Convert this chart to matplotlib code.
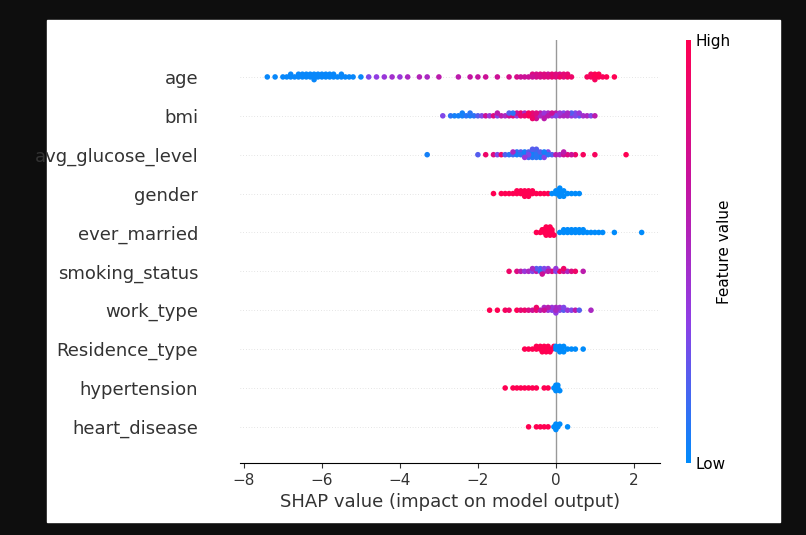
import numpy as np
import matplotlib
matplotlib.use("Agg")
import matplotlib.pyplot as plt
from matplotlib.colors import LinearSegmentedColormap

features = ["age", "bmi", "avg_glucose_level", "gender", "ever_married",
            "smoking_status", "work_type", "Residence_type", "hypertension", "heart_disease"]

age_shap = [-7.4, -7.2, -7.0, -6.9, -6.8, -6.7, -6.6, -6.5, -6.4, -6.3, -6.2, -6.1, -6.0, -5.9,
            -5.8, -5.7, -5.6, -5.5, -5.4, -5.3, -5.2, -5.0, -6.5, -6.3, -6.1, -6.0, -5.9, -6.6,
            -6.4, -6.2, -5.5, -5.7, -6.8, -6.2, -5.8,
            -4.8, -4.6, -4.4, -4.2, -4.0, -3.8, -3.5, -3.3, -3.0, -2.5, -2.2, -2.0,
            -1.8, -1.5, -1.2, -1.0, -0.8, -0.6, -0.5, -0.4, -0.3, -0.2, -0.1, 0.0, 0.1, 0.2,
            0.3, 0.4, -0.7, -0.5, -0.3, -0.1, 0.1, 0.3, -0.9, -0.2, -0.4, 0.0, -0.6, 0.2,
            0.8, 0.9, 1.0, 1.1, 1.2, 1.3, 1.5, 0.9, 1.0, 1.1, 1.0]
age_fv = [0.02] * 35 + [0.3, 0.35, 0.4, 0.45, 0.4, 0.5, 0.55, 0.5, 0.6, 0.6, 0.65, 0.65] + \
         [0.7, 0.7, 0.75, 0.75, 0.7, 0.8, 0.75, 0.8, 0.8, 0.7, 0.85, 0.8, 0.75, 0.8,
          0.85, 0.9, 0.7, 0.75, 0.8, 0.85, 0.9, 0.9, 0.7, 0.8, 0.75, 0.8, 0.7, 0.85] + \
         [0.95, 0.95, 1.0, 1.0, 0.95, 1.0, 1.0, 0.95, 1.0, 1.0, 0.95]

bmi_shap = [-2.9, -2.7, -2.6, -2.5, -2.4, -2.3, -2.2, -2.1, -2.0, -1.9, -1.8, -1.7, -1.6,
            -1.5, -1.4, -1.3, -1.2, -1.1, -1.0, -0.9, -0.8, -0.7, -0.6, -0.5, -0.4, -0.3,
            -0.2, -0.1, 0.0, 0.1, 0.2, 0.3, 0.4, 0.5, 0.6, 0.7, 0.8, 0.9, 1.0,
            -2.4, -2.2, -1.5, -1.2, -1.0, -0.8, -0.6, -0.5, -0.4, -0.3, -0.2, 0.0, 0.2, 0.4,
            -0.7, -0.5, -0.3, -0.1, 0.1, 0.3, 0.5, -1.1, -0.9, -0.6, 0.6]
bmi_fv = [0.3, 0.1, 0.05, 0.05, 0.05, 0.1, 0.05, 0.1, 0.2, 0.3, 0.7, 0.4, 0.8, 0.3, 0.6,
          0.5, 0.7, 0.8, 0.4, 0.9, 0.5, 1.0, 0.9, 0.8, 0.6, 0.7, 0.5, 0.4, 0.6, 0.5, 0.3,
          0.5, 0.4, 0.3, 0.2, 0.45, 0.5, 0.3, 0.6,
          0.05, 0.1, 0.6, 0.2, 0.7, 0.9, 0.85, 0.7, 0.5, 0.4, 0.6, 0.3, 0.5, 0.2,
          0.95, 0.8, 0.6, 0.7, 0.4, 0.5, 0.3, 0.1, 0.85, 0.9, 0.4]

glu_shap = [-3.3, -2.0, -1.8, -1.6, -1.5, -1.4, -1.3, -1.2, -1.1, -1.0, -0.9, -0.8, -0.7,
            -0.6, -0.5, -0.4, -0.3, -0.2, -0.1, 0.0, 0.1, 0.2, 0.3, 0.5, 0.7, 1.0, 1.8,
            -1.0, -0.9, -0.8, -0.7, -0.6, -0.5, -0.4, -0.3, -0.2, -0.6, -0.5, -0.4, -0.7,
            -0.8, -1.1, -0.3, 0.2, 0.4, -0.5, -0.6]
glu_fv = [0.05, 0.2, 0.9, 0.8, 0.3, 0.9, 0.2, 0.1, 0.15, 0.1, 0.2, 0.1, 0.15, 0.1, 0.2,
          0.1, 0.15, 0.3, 0.2, 0.6, 0.5, 0.7, 0.8, 0.9, 0.95, 0.95, 1.0,
          0.05, 0.1, 0.05, 0.2, 0.1, 0.15, 0.05, 0.3, 0.1, 0.05, 0.1, 0.2, 0.3, 0.4,
          0.5, 0.05, 0.6, 0.7, 0.1, 0.2]

gen_shap = [-1.6, -1.4, -1.3, -1.2, -1.1, -1.0, -0.9, -0.8, -0.7, -0.6, -0.5, -0.4, -0.3,
            -0.2, -1.0, -0.9, -0.8, -0.7, -0.6, -0.8, -0.7,
            -0.1, 0.0, 0.05, 0.1, 0.15, 0.2, 0.3, 0.4, 0.5, 0.6, 0.0, 0.1, 0.2, 0.1]
gen_fv = [1.0] * 21 + [0.0] * 14

mar_shap = [-0.5, -0.4, -0.35, -0.3, -0.25, -0.2, -0.15, -0.1, -0.05, -0.3, -0.2, -0.1,
            -0.25, -0.15,
            0.1, 0.2, 0.3, 0.4, 0.5, 0.6, 0.7, 0.8, 0.9, 1.0, 1.1, 1.2, 1.5, 2.2, 0.3,
            0.4, 0.5, 0.6, 0.7, 0.2]
mar_fv = [1.0] * 14 + [0.0] * 20

smk_shap = [-1.2, -1.0, -0.9, -0.8, -0.7, -0.6, -0.5, -0.4, -0.3, -0.2, -0.1, 0.0, 0.1,
            0.2, 0.3, 0.4, 0.5, 0.7, -0.4, -0.3, -0.2, -0.5, 0.0, 0.2, -0.6, -0.35]
smk_fv = [0.9, 0.8, 0.6, 0.4, 0.5, 0.3, 0.6, 0.2, 0.5, 0.4, 0.8, 0.3, 0.9, 0.7, 0.5, 0.8,
          0.9, 0.6, 0.1, 0.3, 0.6, 0.2, 0.4, 0.9, 0.5, 0.7]

wrk_shap = [-1.7, -1.5, -1.3, -1.2, -1.0, -0.9, -0.8, -0.7, -0.6, -0.5, -0.4, -0.3, -0.2,
            -0.1, 0.0, 0.1, 0.2, 0.3, 0.4, 0.5, 0.6, 0.9, -0.1, 0.0, 0.1, 0.2, -0.2, 0.0,
            -0.5, -0.3]
wrk_fv = [1.0, 1.0, 0.95, 0.9, 1.0, 0.85, 0.9, 0.8, 0.7, 0.85, 0.6, 0.5, 0.4, 0.3, 0.5,
          0.3, 0.2, 0.4, 0.3, 0.6, 0.2, 0.5, 0.4, 0.35, 0.45, 0.3, 0.6, 0.5, 0.9, 0.7]

res_shap = [-0.8, -0.7, -0.6, -0.5, -0.4, -0.35, -0.3, -0.25, -0.2, -0.15, -0.1, -0.05,
            -0.5, -0.3, -0.2, -0.4,
            0.0, 0.05, 0.1, 0.15, 0.2, 0.3, 0.4, 0.5, 0.7, 0.1, 0.2, 0.0]
res_fv = [1.0] * 16 + [0.0] * 12

hyp_shap = [-1.3, -1.1, -1.0, -0.9, -0.8, -0.7, -0.6, -0.5, -0.3, -0.2,
            -0.05, 0.0, 0.05, 0.1, 0.0, 0.05, 0.0]
hyp_fv = [1.0] * 10 + [0.0] * 7

hrt_shap = [-0.7, -0.5, -0.4, -0.3, -0.2, 0.0, 0.0, 0.05, 0.1, 0.3, 0.0, -0.05]
hrt_fv = [1.0] * 5 + [0.0] * 7

shap_vals = [age_shap, bmi_shap, glu_shap, gen_shap, mar_shap,
             smk_shap, wrk_shap, res_shap, hyp_shap, hrt_shap]
feat_vals = [age_fv, bmi_fv, glu_fv, gen_fv, mar_fv,
             smk_fv, wrk_fv, res_fv, hyp_fv, hrt_fv]

cmap = LinearSegmentedColormap.from_list("shap", ["#008bfb", "#8e3fe6", "#c6129e", "#ff0052"])

fig = plt.figure(figsize=(8.06, 5.35), dpi=100, facecolor="#0e0e0e")
fig.patches.append(plt.Rectangle((47 / 806, 13 / 535), 733 / 806, 502 / 535,
                                 transform=fig.transFigure, color="white", zorder=-10))
ax = fig.add_axes([240 / 806, 72 / 535, 420 / 806, 423 / 535])

n = len(features)
for i, (sv, fv) in enumerate(zip(shap_vals, feat_vals)):
    y0 = n - 1 - i
    ax.axhline(y0, color="#cccccc", lw=0.5, ls=(0, (1, 3)), zorder=1)
    sv = np.array(sv)
    fv = np.array(fv)
    order = np.argsort(sv)
    # simple beeswarm: stack points that fall in the same x bin
    bins = np.round(sv / 0.09).astype(int)
    ys = np.zeros(len(sv))
    counts = {}
    for k in order:
        c = counts.get(bins[k], 0)
        counts[bins[k]] = c + 1
        off = ((c + 1) // 2) * (1 if c % 2 else -1) * 0.07
        ys[k] = np.clip(off, -0.38, 0.38)
    ax.scatter(sv, y0 + ys, c=fv, cmap=cmap, vmin=0, vmax=1, s=16, lw=0, zorder=3)

ax.axvline(0, color="#999999", lw=1, zorder=2)
ax.set_xlim(-8.1, 2.67)
ax.set_ylim(-0.93, n - 1 + 0.95)
ax.set_yticks(range(n))
ax.set_yticklabels(features[::-1], fontsize=13, color="#333333")
ax.tick_params(axis="y", length=0, pad=30)
ax.tick_params(axis="x", labelsize=11, color="#333333", labelcolor="#333333")
for s in ["top", "right", "left"]:
    ax.spines[s].set_visible(False)
ax.set_xlabel("SHAP value (impact on model output)", fontsize=13, color="#333333")

cax = fig.add_axes([686 / 806, 72 / 535, 5 / 806, 423 / 535])
sm = plt.cm.ScalarMappable(cmap=cmap, norm=plt.Normalize(0, 1))
cb = fig.colorbar(sm, cax=cax, ticks=[0, 1])
cb.set_ticklabels(["Low", "High"])
cb.ax.tick_params(labelsize=11, length=0)
cb.outline.set_visible(False)
cb.set_label("Feature value", fontsize=11, labelpad=-10)

fig.savefig("out.png", dpi=100, facecolor=fig.get_facecolor())
